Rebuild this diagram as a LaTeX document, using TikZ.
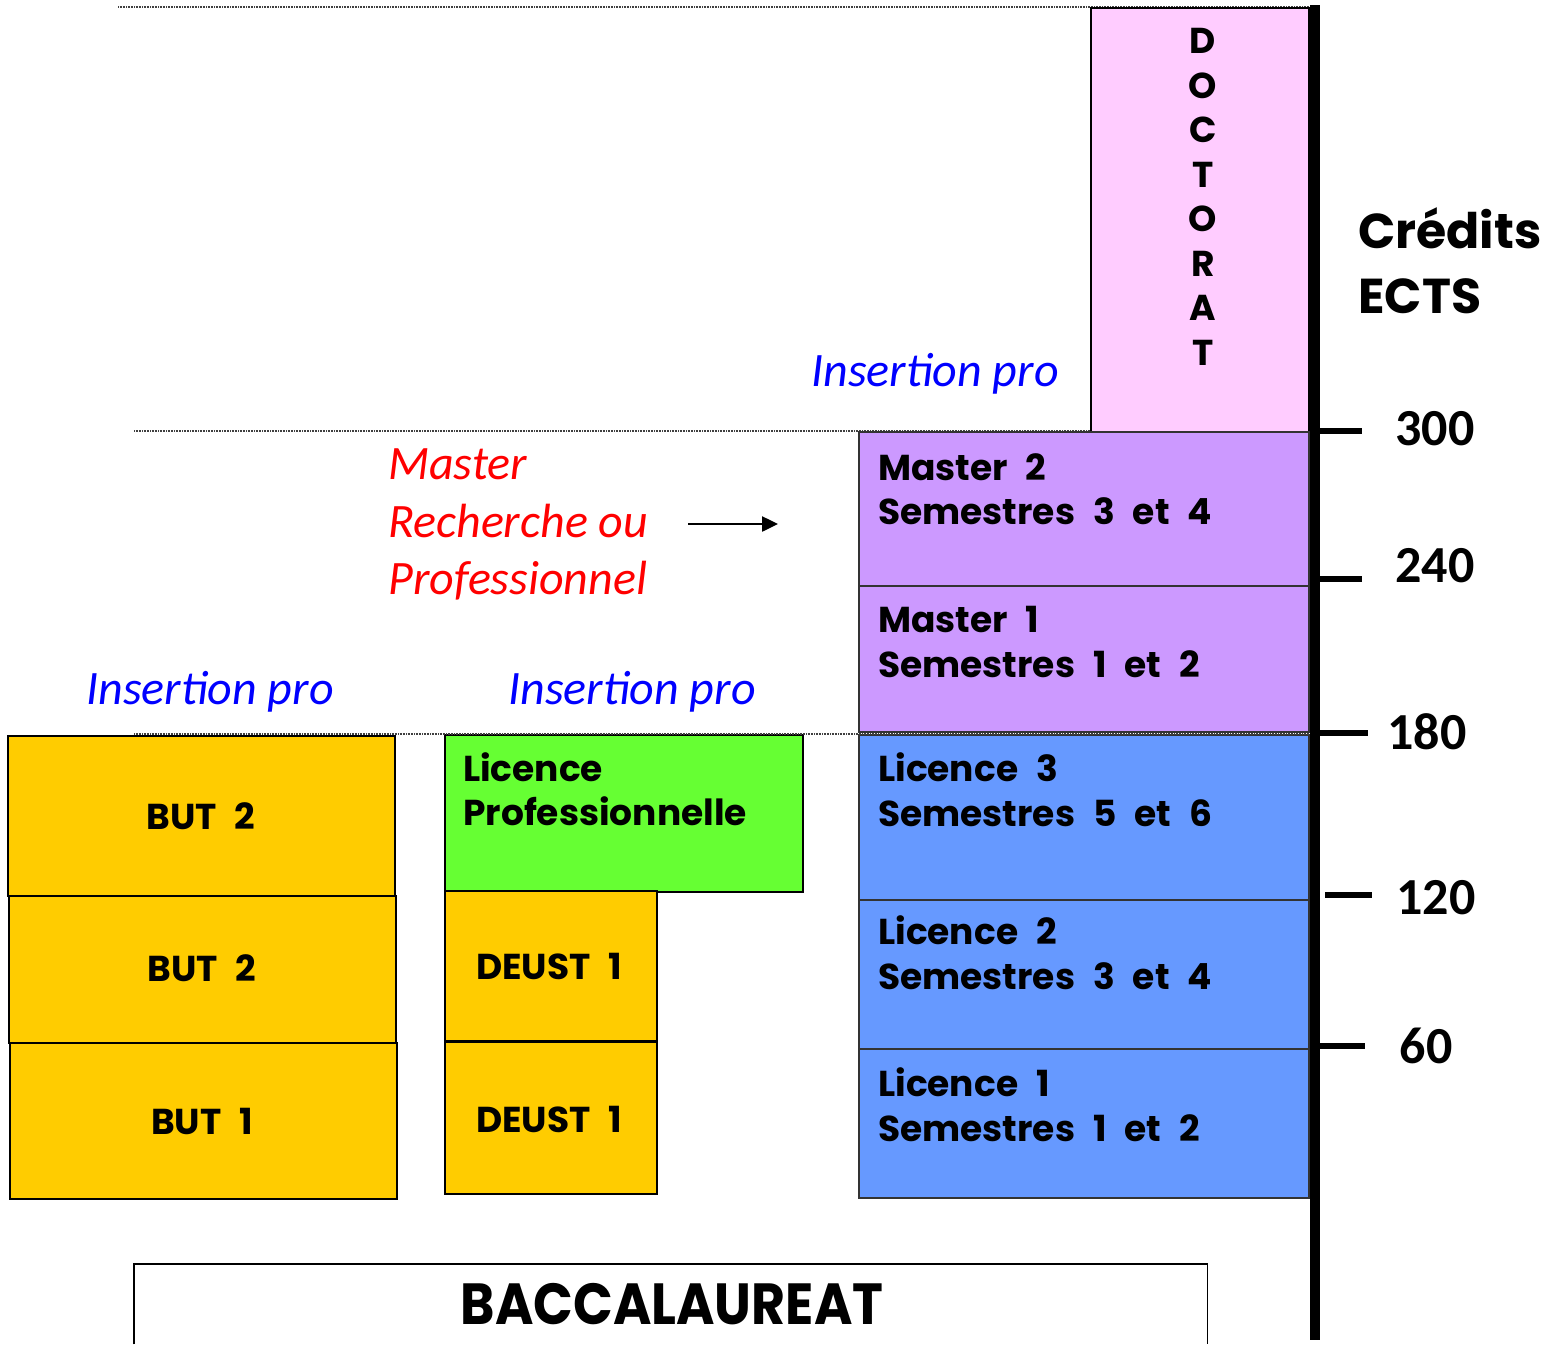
\documentclass[tikz,border=0pt]{standalone}
\usepackage{fontspec}
\setmainfont{Carlito}
\newfontfamily\comicf{Poppins}
\newfontfamily\calif{Carlito}
\usetikzlibrary{arrows.meta}
\definecolor{pinkd}{HTML}{FFCCFF}
\definecolor{lilac}{HTML}{CC99FF}
\definecolor{blueb}{HTML}{6699FF}
\definecolor{gold}{HTML}{FFCC00}
\definecolor{lgreen}{HTML}{66FF33}
\definecolor{insblue}{HTML}{0000FF}
\definecolor{mred}{HTML}{FF0000}
\newcommand{\boxfont}{\comicf\bfseries\fontsize{36}{40}\selectfont\spaceskip=0.5em\relax}
\begin{document}
\begin{tikzpicture}[x=1pt,y=-1pt,
  box/.style={draw=black, line width=1.5pt, anchor=north west, inner sep=0pt},
  boxtxt/.style={anchor=base west, inner sep=0pt, font=\boxfont},
  ctrtxt/.style={anchor=base, inner sep=0pt, font=\boxfont},
  ins/.style={anchor=base, inner sep=0pt, text=insblue, font=\calif\itshape\fontsize{48}{52}\selectfont},
  redtxt/.style={anchor=base west, inner sep=0pt, text=mred, font=\calif\itshape\fontsize{48}{52}\selectfont},
  num/.style={anchor=base, inner sep=0pt, font=\calif\bfseries\fontsize{52}{56}\selectfont},
  sep/.style={draw=black!75, line width=1.4pt, dash pattern=on 1pt off 0.6pt},
  tick/.style={line width=6pt}
]
\useasboundingbox (0,0) rectangle (1563,1344);

% separator lines
\coordinate (s1a) at (118,7);   \coordinate (s1b) at (1310,7);
\coordinate (s2a) at (134,431); \coordinate (s2b) at (1310,431);
\coordinate (s3a) at (134,734); \coordinate (s3b) at (1310,734);
\draw[sep] (s1a) -- (s1b);
\draw[sep] (s2a) -- (s2b);

% right column
\node[box, fill=pinkd, minimum width=218pt, minimum height=424pt] (doc) at (1090,7) {};
\node[box, fill=lilac, draw=black!80, minimum width=450pt, minimum height=154pt] (m2) at (858,431) {};
\node[box, fill=lilac, draw=black!80, minimum width=450pt, minimum height=146pt] (m1) at (858,585) {};
\node[box, fill=blueb, draw=black!80, minimum width=450pt, minimum height=165pt] (l3) at (858,734) {};
\node[box, fill=blueb, draw=black!80, minimum width=450pt, minimum height=149pt] (l2) at (858,899) {};
\node[box, fill=blueb, draw=black!80, minimum width=450pt, minimum height=149pt] (l1) at (858,1048) {};

\foreach \l [count=\i] in {D,O,C,T,O,R,A,T}
  \node[anchor=center, inner sep=0pt, font=\comicf\bfseries\fontsize{36}{40}\selectfont] (doc\i) at (1203,{41+44.5*(\i-1)}) {\l};

\node[boxtxt] (m2a) at (878,480) {Master 2};
\node[boxtxt] (m2b) at (878,524) {Semestres 3 et 4};
\node[boxtxt] (m1a) at (878,632) {Master 1};
\node[boxtxt] (m1b) at (878,677) {Semestres 1 et 2};
\node[boxtxt] (l3a) at (878,781) {Licence 3};
\node[boxtxt] (l3b) at (878,826) {Semestres 5 et 6};
\node[boxtxt] (l2a) at (878,944) {Licence 2};
\node[boxtxt] (l2b) at (878,989) {Semestres 3 et 4};
\node[boxtxt] (l1a) at (878,1096) {Licence 1};
\node[boxtxt] (l1b) at (878,1141) {Semestres 1 et 2};

% left column
\node[box, fill=gold, minimum width=387pt, minimum height=160pt] (b2a) at (7,735) {};
\node[box, fill=gold, minimum width=387pt, minimum height=147pt] (b2b) at (8,895) {};
\node[box, fill=gold, minimum width=387pt, minimum height=156pt] (b1) at (9,1042) {};
\node[ctrtxt] (b2at) at (201,829) {BUT 2};
\node[ctrtxt] (b2bt) at (202,981) {BUT 2};
\node[ctrtxt] (b1t) at (202,1134) {BUT 1};

% middle column
\node[box, fill=lgreen, minimum width=358pt, minimum height=157pt] (lp) at (444,734) {};
\node[box, fill=gold, minimum width=212pt, minimum height=150pt] (d1a) at (444,890) {};
\node[box, fill=gold, minimum width=212pt, minimum height=152pt] (d1b) at (444,1041) {};
\node[boxtxt] (lpa) at (463,781) {Licence};
\node[boxtxt] (lpb) at (463,825) {Professionnelle};
\node[ctrtxt] (d1at) at (549,979) {DEUST 1};
\node[ctrtxt] (d1bt) at (549,1132) {DEUST 1};

\draw[sep] (s3a) -- (s3b);

% baccalaureat (box runs past the bottom edge)
\node[anchor=north west, inner sep=0pt, fill=white, minimum width=1073pt, minimum height=80pt] (bac) at (134,1264) {};
\draw[line width=1.5pt] (bac.south west) -- (bac.north west) -- (bac.north east) -- (bac.south east);
\node[anchor=base, inner sep=0pt, font=\comicf\bfseries\fontsize{58}{62}\selectfont] (bact) at (672,1324) {\scalebox{0.9}[1]{BACCALAUREAT}};

% labels
\node[ins] (ip1) at (935,386) {Insertion pro};
\node[ins] (ip2) at (210,704) {Insertion pro};
\node[ins] (ip3) at (632,704) {Insertion pro};
\node[redtxt] (r1) at (388,479) {Master};
\node[redtxt] (r2) at (388,537) {Recherche ou};
\node[redtxt] (r3) at (388,594) {Professionnel};
\coordinate (arrS) at (688,524);
\coordinate (arrE) at (778,524);
\draw[line width=2.5pt, -{Triangle[length=16pt,width=15pt]}] (arrS) -- (arrE);

% axis
\coordinate (axT) at (1315,5);
\coordinate (axB) at (1315,1340);
\draw[line width=10pt] (axT) -- (axB);
\coordinate (t300a) at (1315,431); \coordinate (t300b) at (1362,431);
\coordinate (t240a) at (1315,579); \coordinate (t240b) at (1362,579);
\coordinate (t180a) at (1315,733); \coordinate (t180b) at (1368,733);
\coordinate (t120a) at (1325,895); \coordinate (t120b) at (1372,895);
\coordinate (t60a)  at (1315,1046); \coordinate (t60b) at (1365,1046);
\draw[tick] (t300a) -- (t300b);
\draw[tick] (t240a) -- (t240b);
\draw[tick] (t180a) -- (t180b);
\draw[tick] (t120a) -- (t120b);
\draw[tick] (t60a) -- (t60b);
\node[num] (n300) at (1435,445) {300};
\node[num] (n240) at (1435,582) {240};
\node[num] (n180) at (1427,749) {180};
\node[num] (n120) at (1436,914) {120};
\node[num] (n60)  at (1426,1063) {60};

\node[anchor=base west, inner sep=0pt, font=\comicf\bfseries\fontsize{49}{54}\selectfont] (cr1) at (1358,248) {Crédits};
\node[anchor=base west, inner sep=0pt, font=\comicf\bfseries\fontsize{49}{54}\selectfont] (cr2) at (1358,313) {ECTS};
\end{tikzpicture}
\end{document}
